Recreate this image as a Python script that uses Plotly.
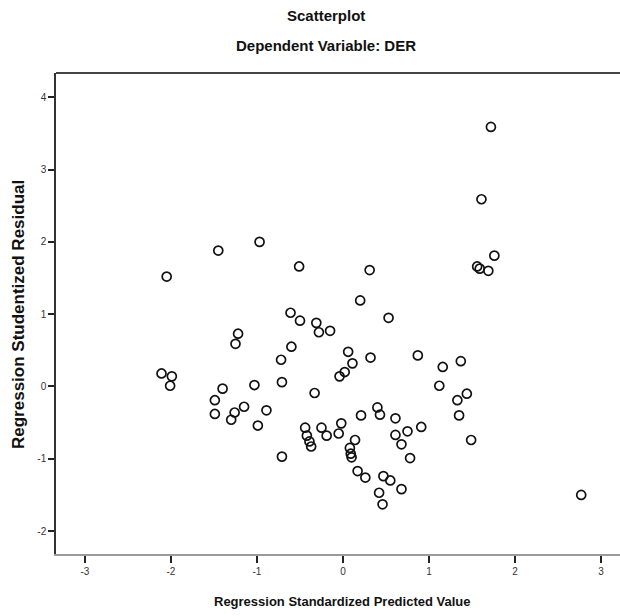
import plotly.graph_objects as go

# Regression Standardized Predicted Value
pred = [1.72, 1.61, 1.76, 1.59, 1.69, 1.56,
        -2.05, -1.45, -0.97, -0.51, 0.31,
        -1.22, -1.25, -0.61, -0.50, -0.31, -0.28, -0.15, 0.20, 0.53,
        -0.60, -0.72, 0.06, 0.11, 0.32, 0.87, 1.16, 1.37, 0.02, -0.04,
        -2.11, -1.99, -2.01, -1.40, -1.03, -1.49, -1.49, -1.26, -1.30, -1.15, -0.89, -0.99,
        -0.71, -0.33, 1.12, 0.40, 0.43, 0.21, 0.61, 0.91,
        -0.44, -0.25, -0.02, -0.05, -0.19, -0.42, -0.39, -0.37,
        0.61, 0.75, 0.68, 0.14, 0.08, 0.09, 0.10, 0.78, -0.71,
        0.17, 0.26, 0.47, 0.55, 0.68, 0.42, 0.46,
        1.33, 1.44, 1.35, 1.49, 2.77]

# Regression Studentized Residual
resid = [3.59, 2.59, 1.81, 1.63, 1.60, 1.66,
         1.52, 1.88, 2.00, 1.66, 1.61,
         0.73, 0.59, 1.02, 0.91, 0.88, 0.75, 0.77, 1.19, 0.95,
         0.55, 0.37, 0.48, 0.32, 0.40, 0.43, 0.27, 0.35, 0.20, 0.14,
         0.18, 0.14, 0.01, -0.03, 0.02, -0.19, -0.38, -0.36, -0.46, -0.28, -0.33, -0.54,
         0.06, -0.09, 0.01, -0.29, -0.39, -0.40, -0.44, -0.56,
         -0.57, -0.57, -0.51, -0.65, -0.68, -0.68, -0.76, -0.83,
         -0.67, -0.62, -0.80, -0.74, -0.85, -0.93, -0.98, -0.99, -0.97,
         -1.17, -1.26, -1.24, -1.30, -1.42, -1.47, -1.63,
         -0.19, -0.10, -0.40, -0.74, -1.50]

x_ticks = [-3, -2, -1, 0, 1, 2, 3]
y_ticks = [-2, -1, 0, 1, 2, 3, 4]

title_main = "Scatterplot"
title_sub = "Dependent Variable: DER"
x_title = "Regression Standardized Predicted Value"
y_title = "Regression Studentized Residual"

W, H = 620, 616
L, R, T, B = 56, 0, 73, 62
pw, ph = W - L - R, H - T - B

def px_x(px):
    return (px - L) / pw

def px_y(py):
    return (H - B - py) / ph

fig = go.Figure()
fig.add_trace(go.Scatter(
    x=pred, y=resid, mode="markers",
    marker=dict(symbol="circle-open", size=9, color="#111111",
                line=dict(width=1.7, color="#111111")),
    showlegend=False, hoverinfo="x+y",
))

font_fam = "Liberation Sans, Arial, sans-serif"

fig.update_layout(
    width=W, height=H,
    margin=dict(l=L, r=R, t=T, b=B, pad=0),
    paper_bgcolor="white", plot_bgcolor="white",
    font=dict(family=font_fam, color="#222222"),
    xaxis=dict(range=[-3.337, 3.221], tickvals=x_ticks,
               ticktext=[str(v) for v in x_ticks],
               showgrid=False, zeroline=False,
               showline=True, linecolor="#9a9a9a", linewidth=1.5,
               ticks="outside", ticklen=7, tickwidth=1.5, tickcolor="#222222",
               tickfont=dict(size=10, color="#333333", family=font_fam),
               fixedrange=True),
    yaxis=dict(range=[-2.317, 4.336], tickvals=y_ticks,
               ticktext=[str(v) for v in y_ticks],
               showgrid=False, zeroline=False,
               showline=True, linecolor="#333333", linewidth=1.5,
               ticks="outside", ticklen=6, tickwidth=1.5, tickcolor="#222222",
               tickfont=dict(size=10, color="#333333", family=font_fam),
               fixedrange=True),
    shapes=[dict(type="line", xref="paper", yref="paper", x0=0, x1=1, y0=1, y1=1,
                 line=dict(color="#444444", width=2))],
    annotations=[
        dict(text="<b>" + title_main + "</b>", xref="paper", yref="paper", x=px_x(326), y=px_y(15),
             showarrow=False, xanchor="center", yanchor="middle",
             font=dict(size=15, color="#111111", family=font_fam)),
        dict(text="<b>" + title_sub + "</b>", xref="paper", yref="paper", x=px_x(326), y=px_y(45),
             showarrow=False, xanchor="center", yanchor="middle",
             font=dict(size=15, color="#111111", family=font_fam)),
        dict(text="<b>" + x_title + "</b>", xref="paper", yref="paper", x=px_x(342), y=px_y(601),
             showarrow=False, xanchor="center", yanchor="middle",
             font=dict(size=13, color="#111111", family=font_fam)),
        dict(text="<b>" + y_title + "</b>", xref="paper", yref="paper", x=px_x(18), y=px_y(315),
             showarrow=False, xanchor="center", yanchor="middle", textangle=-90,
             font=dict(size=17, color="#111111", family=font_fam)),
    ],
)

fig.write_html("out.html", config={"displayModeBar": False},
               post_script="document.body.style.margin='0';document.body.style.overflow='hidden';")
